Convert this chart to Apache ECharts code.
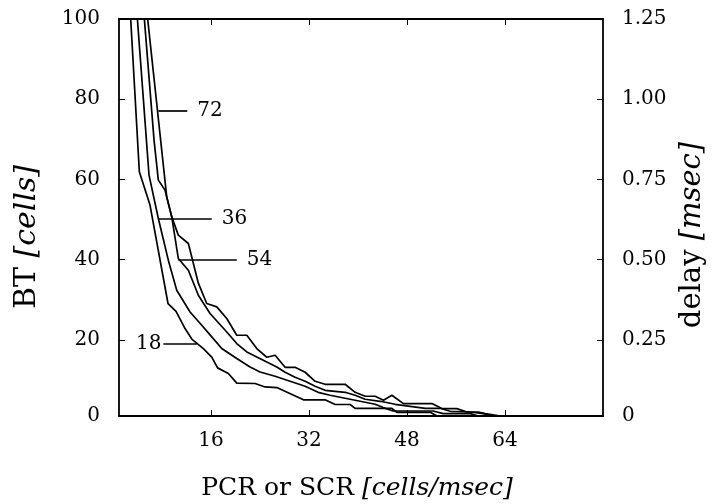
<!DOCTYPE html>
<html><head><meta charset="utf-8">
<script src="https://cdn.jsdelivr.net/npm/echarts@6/dist/echarts.min.js"></script>
<style>html,body{margin:0;padding:0;background:#fff}#c{width:712px;height:504px}</style>
</head><body><div id="c"></div><script>
// BT [cells] vs PCR or SCR [cells/msec], one curve per label
const bt18 = [[2.55,109.7],[4.32,61.9],[6.06,53.6],[9.0,29.05],[10.31,27.1],[11.78,22.8],[12.92,20.1],[14.77,17.8],[16.14,15.7],[17.09,13.0],[18.85,11.6],[20.22,9.2],[23.21,9.1],[24.84,8.24],[26.76,8.09],[31.1,5.04],[34.64,5.04],[36.28,3.87],[38.73,3.87],[39.54,2.92],[45.54,2.92],[46.35,1.92],[51.79,1.92],[52.94,1],[80,1]];
const bt36 = [[3.53,109.7],[5.90,61.07],[7.42,50.26],[9.05,39.86],[10.42,32.37],[12.6,26.95],[14.51,23.63],[16.14,20.72],[17.77,17.82],[20.22,15.32],[22.39,13.23],[24.03,11.98],[26.48,10.91],[28.93,9.66],[31.38,8.41],[33.5,6.91],[35.46,6.17],[37.91,5.42],[40.36,4.67],[42.81,3.92],[44.12,3.1],[45.75,2.25],[52.28,2.25],[53.92,1.6],[58.33,1.6],[59.63,1],[80,1]];
const bt54 = [[4.63,109.7],[6.72,69.8],[7.42,59.82],[8.51,57.33],[9.61,50.66],[10.68,40.28],[12.32,37.36],[13.95,31.12],[15.86,26.55],[18.59,21.96],[20.22,19.07],[21.86,16.97],[23.49,15.72],[25.12,14.48],[26.76,13.23],[28.11,11.91],[29.74,10.66],[31.38,9.66],[33.01,8.41],[34.64,7.41],[37.91,6.91],[39.54,6.17],[41.18,5.17],[43.63,4.67],[46.08,3.92],[48.53,3.42],[50.98,2.92],[53.43,2.92],[55.06,2.17],[58.33,2.0],[60.45,1.6],[61.92,1],[80,1]];
const bt72 = [[5.0,109.7],[8.79,55.65],[9.61,50.66],[10.68,46.1],[12.32,44.02],[13.95,34.12],[15.32,29.05],[16.96,28.2],[18.59,25.31],[20.22,21.14],[21.86,21.14],[23.49,17.82],[25.12,15.65],[26.48,16.15],[28.11,13.15],[29.74,13.15],[31.38,11.91],[33.01,9.66],[34.64,8.91],[37.91,8.91],[39.54,6.91],[41.18,5.92],[42.81,5.92],[44.17,4.92],[45.54,6.17],[47.43,4.09],[52.07,4.09],[53.7,2.85],[56.15,2.85],[57.79,2.0],[59.68,2.0],[60.77,1.6],[63.22,1],[80,1]];

// curve labels (same order as the series) with their leader lines in data coords
const curveNames = ['18','36','54','72'];
const leaderY  = [18.9, 50.1, 40.0, 77.0];
const leaderX0 = [8.24, 7.42, 10.68, 7.42];
const leaderX1 = [13.69, 16.14, 20.22, 12.15];

// axes
const xRange = [1, 80];
const xTicks = [16, 32, 48, 64];
const btRange = [1, 100];
const btTickVals = [1, 20, 40, 60, 80, 100];
const btTickText = ['0', '20', '40', '60', '80', '100'];
const delayRange = [0.0125, 1.25];
const delayTickVals = [0.0125, 0.25, 0.5, 0.75, 1.0, 1.25];
const delayTickText = ['0', '0.25', '0.50', '0.75', '1.00', '1.25'];

const FONT = 'DejaVu Serif';
const BLACK = '#000';
const chart = echarts.init(document.getElementById('c'), null, {renderer: 'canvas'});

const seriesData = [bt18, bt36, bt54, bt72];
const series = seriesData.map((d, i) => ({
  type: 'line', name: curveNames[i], data: d, showSymbol: false, symbol: 'none',
  clip: true, animation: false, silent: true,
  lineStyle: {color: BLACK, width: 1.7},
  markLine: {
    silent: true, symbol: ['none', 'none'], animation: false,
    lineStyle: {color: BLACK, width: 1.7, type: 'solid'},
    emphasis: {disabled: true},
    label: {
      show: true, position: i === 0 ? 'start' : 'end', distance: i === 0 ? 2 : 10,
      formatter: curveNames[i], color: BLACK, fontFamily: FONT, fontSize: 20
    },
    data: [[{coord: [leaderX0[i], leaderY[i]]}, {coord: [leaderX1[i], leaderY[i]]}]]
  }
}));

const axisLine = {show: true, onZero: false, lineStyle: {color: BLACK, width: 1.8}};
const tickStyle = {color: BLACK, width: 1};
const labelStyle = {color: BLACK, fontFamily: FONT, fontSize: 20};

chart.setOption({
  animation: false,
  backgroundColor: '#fff',
  grid: {left: 119, right: 109, top: 19, bottom: 88},
  xAxis: [
    {type: 'value', min: xRange[0], max: xRange[1], position: 'bottom', axisLine,
     axisTick: {show: true, inside: true, length: 6, customValues: xTicks, lineStyle: tickStyle},
     axisLabel: Object.assign({customValues: xTicks, margin: 15}, labelStyle),
     splitLine: {show: false}},
    {type: 'value', min: xRange[0], max: xRange[1], position: 'top', axisLine,
     axisTick: {show: true, inside: true, length: 6, customValues: xTicks, lineStyle: tickStyle},
     axisLabel: {show: false}, splitLine: {show: false}}
  ],
  yAxis: [
    {type: 'value', min: btRange[0], max: btRange[1], position: 'left', axisLine,
     axisTick: {show: true, inside: true, length: 6, customValues: btTickVals.slice(1, -1), lineStyle: tickStyle},
     axisLabel: Object.assign({customValues: btTickVals, margin: 19,
       formatter: v => btTickText[btTickVals.indexOf(v)] ?? String(v)}, labelStyle),
     splitLine: {show: false}},
    {type: 'value', min: delayRange[0], max: delayRange[1], position: 'right', axisLine,
     axisTick: {show: true, inside: true, length: 6, customValues: delayTickVals.slice(1, -1), lineStyle: tickStyle},
     axisLabel: Object.assign({customValues: delayTickVals, margin: 19,
       formatter: v => {
         let k = 0, best = Infinity;
         delayTickVals.forEach((t, j) => { if (Math.abs(t - v) < best) { best = Math.abs(t - v); k = j; } });
         return delayTickText[k];
       }}, labelStyle),
     splitLine: {show: false}}
  ],
  series,
  graphic: [
    {type: 'text', x: 357, y: 488, silent: true,
     style: {text: 'PCR or SCR {i|[cells/msec]}', fill: BLACK, fontFamily: FONT, fontSize: 25,
       align: 'center', verticalAlign: 'middle',
       rich: {i: {fontStyle: 'italic', fontFamily: FONT, fontSize: 25, fill: BLACK}}}},
    {type: 'text', x: 27, y: 237, rotation: Math.PI / 2, silent: true,
     style: {text: 'BT {i|[cells]}', fill: BLACK, fontFamily: FONT, fontSize: 30,
       align: 'center', verticalAlign: 'middle',
       rich: {i: {fontStyle: 'italic', fontFamily: FONT, fontSize: 30, fill: BLACK}}}},
    {type: 'text', x: 692, y: 235, rotation: Math.PI / 2, silent: true,
     style: {text: 'delay {i|[msec]}', fill: BLACK, fontFamily: FONT, fontSize: 29,
       align: 'center', verticalAlign: 'middle',
       rich: {i: {fontStyle: 'italic', fontFamily: FONT, fontSize: 29, fill: BLACK}}}}
  ]
});
</script></body></html>
